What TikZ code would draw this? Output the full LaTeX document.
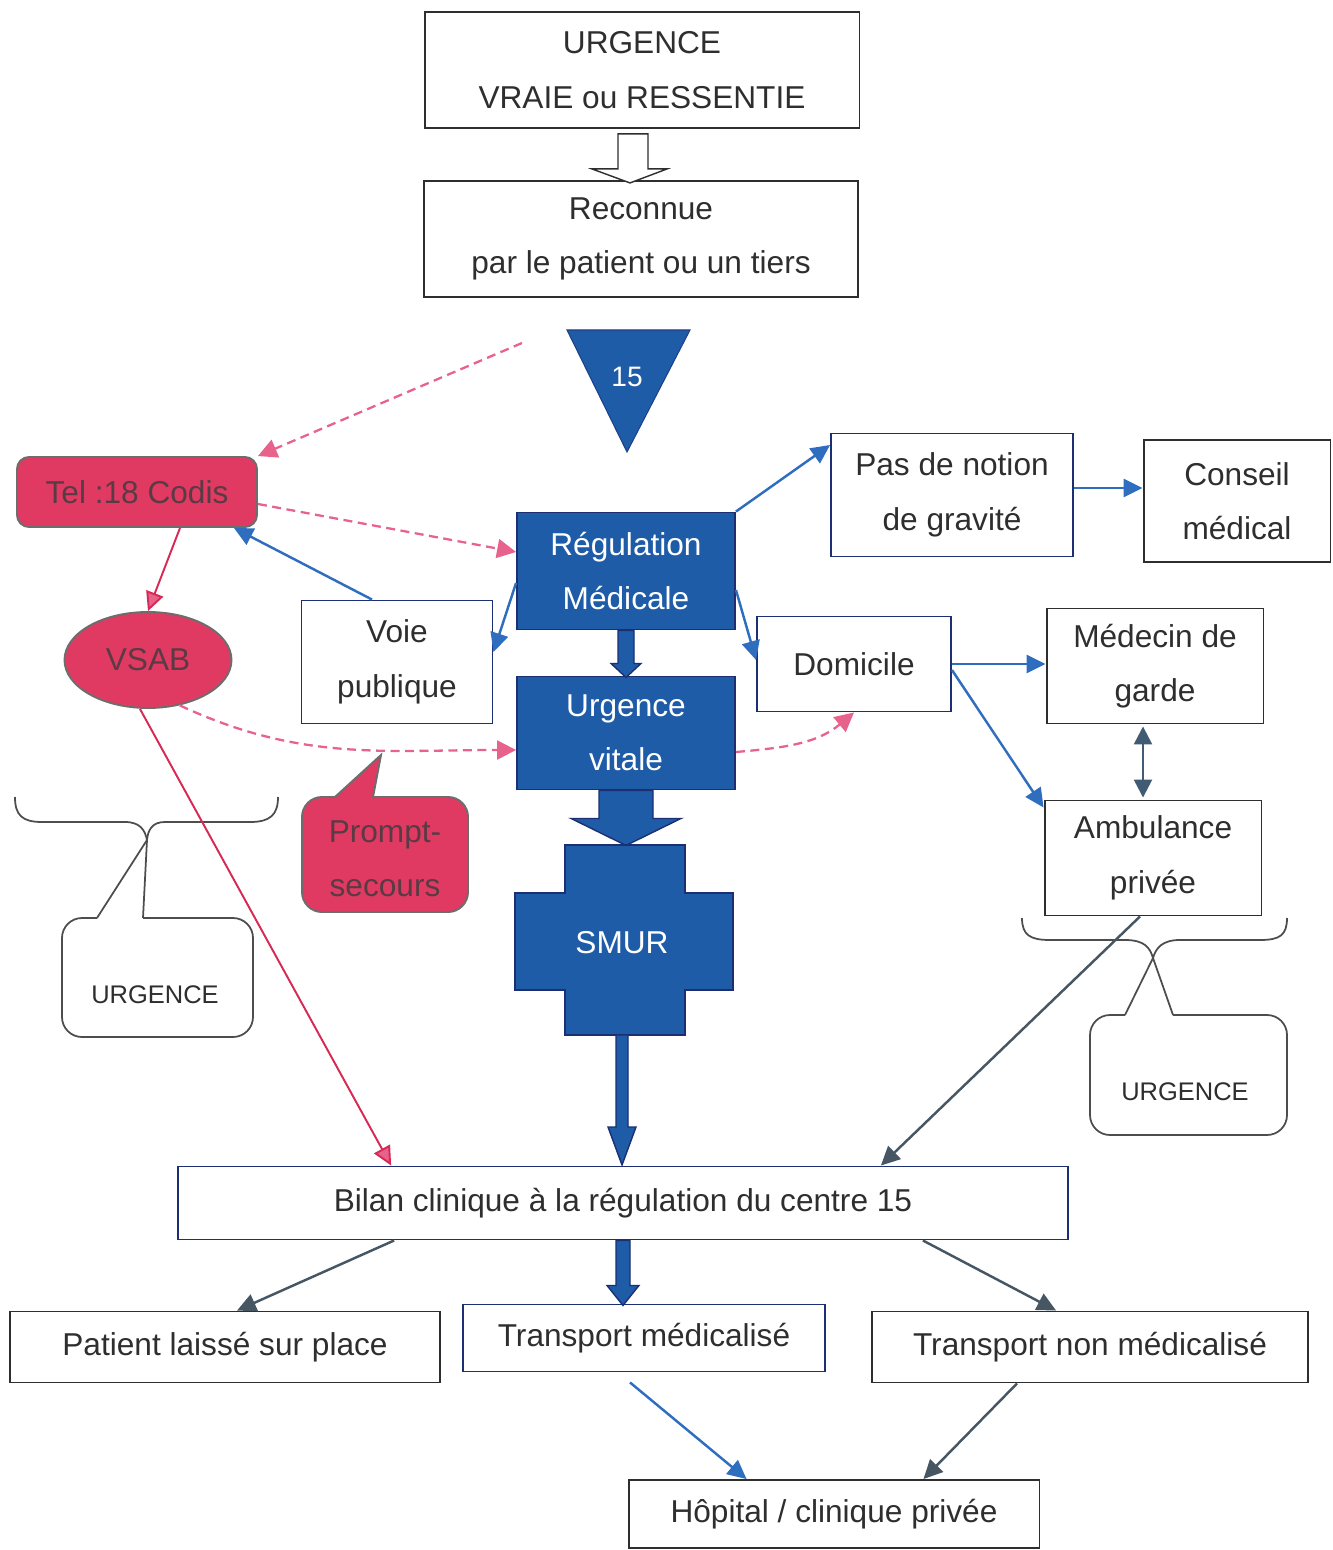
\documentclass[tikz,border=0pt]{standalone}
\usepackage{fontspec}
\setmainfont{Liberation Sans}
\usepackage{tikz}
\usetikzlibrary{calc,shapes.geometric,arrows.meta}

\definecolor{regblue}{HTML}{1F5CA8}
\definecolor{navy}{HTML}{1B2F72}
\definecolor{lineblue}{HTML}{2F6EBF}
\definecolor{codis}{HTML}{E03A62}
\definecolor{codistext}{HTML}{5A3A44}
\definecolor{dashpink}{HTML}{E8638C}
\definecolor{crimson}{HTML}{D62A55}
\definecolor{slate}{HTML}{465663}
\definecolor{ink}{HTML}{2E2E2E}

\begin{document}
\begin{tikzpicture}[x=0.02cm,y=-0.02cm,
  font=\fontsize{18}{31}\selectfont,text=ink,line width=1.1pt,
  box/.style={draw=ink,rectangle,align=center,inner sep=2pt},
  bbox/.style={box,draw=navy},
  fillbox/.style={box,draw=navy,fill=regblue,text=white},
  pinkbox/.style={draw=ink!70,fill=codis,text=codistext,align=center},
  block/.style={fill=regblue,draw=navy,line width=0.8pt},
  callout/.style={draw=ink!85,line width=1pt},
  bluearr/.style={draw=lineblue,line width=1.4pt,-{Triangle[length=3.8mm,width=3.6mm]}},
  grayarr/.style={draw=slate,line width=1.4pt,-{Triangle[length=3.8mm,width=3.6mm]}},
  redarr/.style={draw=crimson,line width=1.1pt,-{Triangle[length=3.8mm,width=3.6mm,fill=dashpink]}},
  pinkdash/.style={draw=dashpink,line width=1.3pt,dash pattern=on 1.8mm off 1.1mm,
    -{Triangle[length=3.8mm,width=3.8mm]}}]
  \useasboundingbox (0,0) rectangle (1332,1550);

  % top of the chart
  \node[box,minimum width=8.7cm,minimum height=2.32cm] (urg) at (642,70) {URGENCE\\VRAIE ou RESSENTIE};
  \node[box,minimum width=8.68cm,minimum height=2.32cm] (rec) at (641,239) {Reconnue\\par le patient ou un tiers};
  \filldraw[fill=white,draw=ink,line width=0.8pt,shift={(urg.south)}]
    (-24,5) -- (6,5) -- (6,40) -- (25,40) -- (-12,54) -- (-50,40) -- (-24,40) -- cycle;
  \filldraw[fill=regblue,draw=navy!60!regblue,line width=0.6pt] (567,330) -- (690,330) -- (627,452) -- cycle;
  \node[text=white,font=\fontsize{16}{19}\selectfont] (num) at (627,377) {15};
  \coordinate (call) at (522,343);

  % left side
  \node[pinkbox,rounded corners=0.24cm,minimum width=4.8cm,minimum height=1.4cm] (tel) at (137,492) {Tel :18 Codis};
  \node[pinkbox,ellipse,minimum width=3.34cm,minimum height=1.92cm,inner sep=0pt] (vsab) at (148,660) {VSAB};
  \node[bbox,minimum width=3.82cm,minimum height=2.46cm] (voie) at (397,662) {Voie\\publique};
  \filldraw[fill=codis,draw=ink!70] (335,797) -- (381,755) -- (373,797)
    [rounded corners=0.4cm] -- (468,797) -- (468,912) -- (302,912) -- (302,797) -- (335,797);
  \node[text=codistext,align=center] (prompt) at (385,859) {Prompt-\\secours};

  % centre column
  \node[fillbox,minimum width=4.36cm,minimum height=2.34cm] (reg) at (626,571) {Régulation\\Médicale};
  \node[fillbox,minimum width=4.36cm,minimum height=2.26cm] (vit) at (626,733) {Urgence\\vitale};
  \filldraw[block,shift={(reg.south)}]
    (-8,0) -- (8,0) -- (8,33) -- (15,33) -- (0,47) -- (-15,33) -- (-8,33) -- cycle;
  \filldraw[block,shift={(vit.south)}]
    (-27,0) -- (27,0) -- (27,28) -- (55,28) -- (0,55) -- (-55,28) -- (-27,28) -- cycle;
  \filldraw[block] (565,845) -- (685,845) -- (685,893) -- (733,893) -- (733,990) -- (685,990)
    -- (685,1035) -- (565,1035) -- (565,990) -- (515,990) -- (515,893) -- (565,893) -- cycle;
  \node[text=white] (smur) at (622,943) {SMUR};
  \coordinate (smurfoot) at (622,1035);
  \filldraw[block,shift={(smurfoot)}]
    (-6,0) -- (6,0) -- (6,92) -- (14,92) -- (0,130) -- (-14,92) -- (-6,92) -- cycle;

  % right side
  \node[bbox,minimum width=4.84cm,minimum height=2.46cm] (pas) at (952,495) {Pas de notion\\de gravité};
  \node[box,minimum width=3.74cm,minimum height=2.44cm] (cons) at (1237,501) {Conseil\\médical};
  \node[bbox,minimum width=3.88cm,minimum height=1.9cm] (dom) at (854,664) {Domicile};
  \node[box,minimum width=4.34cm,minimum height=2.3cm] (med) at (1155,666) {Médecin de\\garde};
  \node[box,minimum width=4.34cm,minimum height=2.3cm] (amb) at (1153,858) {Ambulance\\privée};

  % bottom
  \node[bbox,minimum width=17.8cm,minimum height=1.46cm] (bil) at (623,1203) {Bilan clinique à la régulation du centre 15};
  \node[box,minimum width=8.6cm,minimum height=1.42cm] (pat) at (225,1347) {Patient laissé sur place};
  \node[bbox,minimum width=7.24cm,minimum height=1.34cm] (tm) at (644,1338) {Transport médicalisé};
  \node[box,minimum width=8.72cm,minimum height=1.42cm] (tnm) at (1090,1347) {Transport non médicalisé};
  \node[box,minimum width=8.22cm,minimum height=1.36cm] (hop) at (834,1514) {Hôpital / clinique privée};
  \filldraw[block,shift={(bil.south)}]
    (-7,0) -- (7,0) -- (7,45) -- (16,45) -- (0,65) -- (-16,45) -- (-7,45) -- cycle;

  % braces and URGENCE callouts
  \draw[callout] (15,797) .. controls (15,815) and (22,822) .. (42,822) -- (125,822)
    .. controls (140,822) and (145,830) .. (147,840) -- (143,918);
  \draw[callout] (278,797) .. controls (278,815) and (270,822) .. (250,822) -- (165,822)
    .. controls (152,822) and (148,830) .. (147,840) -- (97,918);
  \draw[callout,rounded corners=0.4cm] (97,918) -- (62,918) -- (62,1037) -- (253,1037) -- (253,918) -- (143,918);
  \node[font=\fontsize{14.5}{17}\selectfont] (urgl) at (155,995) {URGENCE};
  \draw[callout] (1022,918) .. controls (1022,935) and (1030,940) .. (1050,940) -- (1125,940)
    .. controls (1145,940) and (1150,948) .. (1153,958) -- (1173,1015);
  \draw[callout] (1287,918) .. controls (1287,935) and (1280,940) .. (1260,940) -- (1180,940)
    .. controls (1162,940) and (1156,948) .. (1153,958) -- (1125,1015);
  \draw[callout,rounded corners=0.4cm] (1125,1015) -- (1090,1015) -- (1090,1135) -- (1287,1135) -- (1287,1015) -- (1173,1015);
  \node[font=\fontsize{14.5}{17}\selectfont] (urgr) at (1185,1092) {URGENCE};

  % connectors
  \draw[pinkdash] (call) -- (tel.north east);
  \draw[pinkdash] ($(tel.east)+(0,12)$) -- ($(reg.west)+(0,-19)$);
  \draw[pinkdash] (vsab.-55) to[out=-25,in=180] ($(vit.west)+(0,17)$);
  \draw[pinkdash] ($(vit.east)+(0,19)$) to[out=5,in=-140] (dom.south);
  \draw[redarr] ($(tel.south)+(43,0)$) -- (vsab.north);
  \draw[redarr] ($(vsab.south)+(-8,0)$) -- ($(bil.north west)+(214,0)$);
  \draw[bluearr] ($(voie.north)+(-25,0)$) -- ($(tel.south east)+(-24,0)$);
  \draw[bluearr] ($(reg.west)+(0,12)$) -- ($(voie.east)+(0,-10)$);
  \draw[bluearr] ($(reg.east)+(0,19)$) -- ($(dom.west)+(0,-4)$);
  \draw[bluearr] (reg.north east) -- ($(pas.west)+(0,-50)$);
  \draw[bluearr] ($(pas.east)+(0,-7)$) -- ($(cons.west)+(0,-13)$);
  \draw[bluearr] (dom.east) -- ($(med.west)+(0,-2)$);
  \draw[bluearr] ($(dom.east)+(0,6)$) -- ($(amb.north west)+(0,8)$);
  \draw[draw=slate!80!lineblue,line width=1.4pt,{Triangle[length=3.6mm,width=3.6mm]}-{Triangle[length=3.6mm,width=3.6mm]}]
    ($(med.south)+(-12,2)$) -- ($(amb.north)+(-10,-2)$);
  \draw[grayarr] ($(amb.south)+(-13,0)$) -- ($(bil.north east)+(-188,0)$);
  \draw[grayarr] ($(bil.south west)+(217,0)$) -- ($(pat.north)+(12,0)$);
  \draw[grayarr] ($(bil.south east)+(-146,0)$) -- ($(tnm.north west)+(185,0)$);
  \draw[bluearr] ($(tm.south)+(-14,10)$) -- ($(hop.north west)+(119,0)$);
  \draw[grayarr] ($(tnm.south)+(-73,0)$) -- ($(hop.north east)+(-117,0)$);
\end{tikzpicture}
\end{document}
